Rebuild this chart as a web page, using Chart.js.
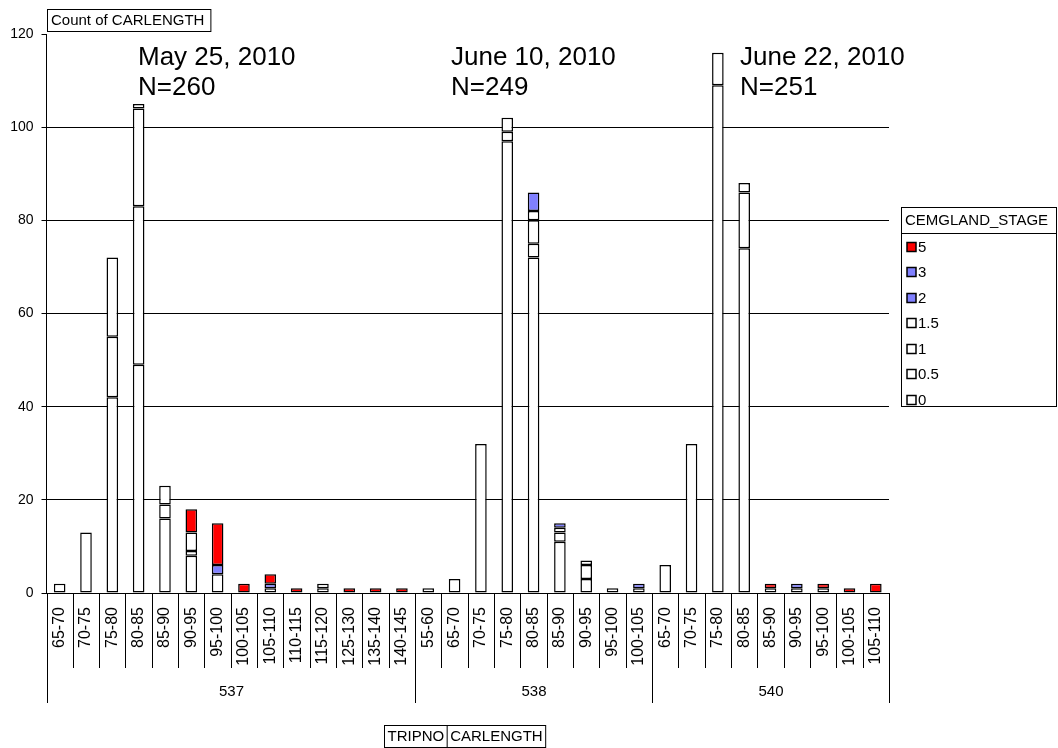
<!DOCTYPE html>
<html>
<head>
  <title>Count of CARLENGTH by CEMGLAND_STAGE</title>
  <script src="https://cdn.jsdelivr.net/npm/chart.js"></script>
  <style>
    body { margin: 0; background: #fff; }
  </style>
</head>
<body>
  <canvas id="chart" width="1058" height="748"></canvas>

  <script>
    const FONT = '"Liberation Sans", Arial, sans-serif';

    // categories: CARLENGTH bins, grouped by TRIPNO
    const lengthBins = [
      '65-70', '70-75', '75-80', '80-85', '85-90', '90-95', '95-100', '100-105', '105-110',
      '110-115', '115-120', '125-130', '135-140', '140-145',
      '55-60', '65-70', '70-75', '75-80', '80-85', '85-90', '90-95', '95-100', '100-105',
      '65-70', '70-75', '75-80', '80-85', '85-90', '90-95', '95-100', '100-105', '105-110'
    ];
    const trips = ['537', '538', '540'];
    const tripSizes = [14, 9, 9];
    const surveyDates = ['May 25, 2010', 'June 10, 2010', 'June 22, 2010'];
    const surveyCounts = [260, 249, 251];

    // counts per CEMGLAND_STAGE (stack order bottom -> top)
    const stage0  = [2, 13, 42, 49, 16, 8, 4, 0, 1, 0, 1, 0, 0, 0,  1, 3, 32, 97, 72, 11, 3, 1, 1,  6, 32, 109, 74, 1, 1, 1, 0, 0];
    const stage05 = [0, 0, 13, 34, 3, 1, 0, 0, 0, 0, 1, 0, 0, 0,    0, 0, 0, 2, 3, 2, 3, 0, 0,      0, 0, 7, 12, 0, 0, 0, 0, 0];
    const stage1  = [0, 0, 17, 21, 4, 4, 0, 0, 0, 0, 0, 0, 0, 0,    0, 0, 0, 3, 5, 1, 1, 0, 0,      0, 0, 0, 2, 0, 0, 0, 0, 0];
    const stage15 = [0, 0, 0, 1, 0, 0, 0, 0, 0, 0, 0, 0, 0, 0,      0, 0, 0, 0, 2, 0, 0, 0, 0,      0, 0, 0, 0, 0, 0, 0, 0, 0];
    const stage2  = [0, 0, 0, 0, 0, 0, 2, 0, 1, 0, 0, 0, 0, 0,      0, 0, 0, 0, 0, 0, 0, 0, 0,      0, 0, 0, 0, 0, 0, 0, 0, 0];
    const stage3  = [0, 0, 0, 0, 0, 0, 0, 0, 0, 0, 0, 0, 0, 0,      0, 0, 0, 0, 4, 1, 0, 0, 1,      0, 0, 0, 0, 0, 1, 0, 0, 0];
    const stage5  = [0, 0, 0, 0, 0, 5, 9, 2, 2, 1, 0, 1, 1, 1,      0, 0, 0, 0, 0, 0, 0, 0, 0,      0, 0, 0, 0, 1, 0, 1, 1, 2];

    const yTicks = [0, 20, 40, 60, 80, 100, 120];

    const WHITE = '#ffffff', BLUE = '#8080ff', RED = '#ff0000';
    const stages = [
      ['0', stage0, WHITE], ['0.5', stage05, WHITE], ['1', stage1, WHITE], ['1.5', stage15, WHITE],
      ['2', stage2, BLUE], ['3', stage3, BLUE], ['5', stage5, RED]
    ];

    const datasets = stages.map(([name, vals, col]) => ({
      label: name,
      data: vals.map(v => v === 0 ? null : v),
      backgroundColor: col,
      borderColor: '#000',
      borderWidth: 1.5,
      borderSkipped: false,
      categoryPercentage: 1,
      barPercentage: 0.44
    }));

    function line(ctx, x1, y1, x2, y2) {
      ctx.beginPath();
      ctx.moveTo(x1, y1);
      ctx.lineTo(x2, y2);
      ctx.stroke();
    }

    const extras = {
      id: 'extras',
      afterDraw(chart) {
        const ctx = chart.ctx;
        const xs = chart.scales.x;
        const area = chart.chartArea;
        const step = xs.getPixelForValue(1) - xs.getPixelForValue(0);
        const edge = i => Math.round(xs.getPixelForValue(0) - step / 2 + i * step) + 0.5;
        ctx.save();
        ctx.strokeStyle = '#000';
        ctx.fillStyle = '#000';
        ctx.lineWidth = 1;

        // category boxes and TRIPNO groups below the axis
        const groupEdges = [0];
        tripSizes.forEach(n => groupEdges.push(groupEdges[groupEdges.length - 1] + n));
        for (let i = 0; i <= lengthBins.length; i++) {
          line(ctx, edge(i), area.bottom, edge(i), groupEdges.includes(i) ? 703 : 668);
        }
        ctx.font = '15px ' + FONT;
        ctx.textAlign = 'center';
        ctx.textBaseline = 'middle';
        trips.forEach((t, g) => {
          ctx.fillText(t, (edge(groupEdges[g]) + edge(groupEdges[g + 1])) / 2, 692);
        });

        // survey date annotations
        const notePos = [138, 451, 740];
        ctx.font = '26px ' + FONT;
        ctx.textAlign = 'left';
        ctx.textBaseline = 'alphabetic';
        surveyDates.forEach((d, g) => {
          ctx.fillText(d, notePos[g], 65);
          ctx.fillText('N=' + surveyCounts[g], notePos[g], 95);
        });

        // field buttons
        ctx.font = '15px ' + FONT;
        ctx.textBaseline = 'middle';
        const countLabel = 'Count of CARLENGTH';
        const cw = ctx.measureText(countLabel).width;
        ctx.strokeRect(47.5, 9.5, cw + 10, 22);
        ctx.fillText(countLabel, 51, 21);

        const w1 = ctx.measureText('TRIPNO').width + 6;
        const w2 = ctx.measureText('CARLENGTH').width + 6;
        ctx.strokeRect(384.5, 725.5, w1 + w2, 22);
        line(ctx, 384.5 + w1, 725.5, 384.5 + w1, 747.5);
        ctx.fillText('TRIPNO', 387.5, 737);
        ctx.fillText('CARLENGTH', 387.5 + w1, 737);

        // legend
        const lx = 901.5, ly = 207.5, lw = 155, lh = 199;
        ctx.fillStyle = '#fff';
        ctx.fillRect(lx, ly, lw, lh);
        ctx.strokeRect(lx, ly, lw, lh);
        line(ctx, lx, 233.5, lx + lw, 233.5);
        ctx.fillStyle = '#000';
        ctx.fillText('CEMGLAND_STAGE', 905, 220.5);
        ctx.lineWidth = 1.5;
        chart.data.datasets.slice().reverse().forEach((ds, i) => {
          const cy = Math.round(246.7 + i * 25.55);
          ctx.fillStyle = ds.backgroundColor;
          ctx.fillRect(907, cy - 4.5, 9, 9);
          ctx.strokeRect(907, cy - 4.5, 9, 9);
          ctx.fillStyle = '#000';
          ctx.fillText(ds.label, 918, cy + 0.5);
        });
        ctx.restore();
      }
    };

    new Chart(document.getElementById('chart'), {
      type: 'bar',
      data: { labels: lengthBins, datasets: datasets },
      plugins: [extras],
      options: {
        responsive: false,
        animation: false,
        layout: { padding: { top: 34, right: 169, left: 0, bottom: 0 } },
        plugins: {
          legend: { display: false },
          tooltip: { enabled: false }
        },
        scales: {
          x: {
            stacked: true,
            afterFit: s => { s.height = 155; },
            grid: { display: true, drawOnChartArea: false, drawTicks: false },
            border: { display: true, color: '#000', width: 1 },
            ticks: {
              autoSkip: false, minRotation: 90, maxRotation: 90,
              padding: 14, color: '#000',
              font: { family: FONT, size: 16 }
            }
          },
          y: {
            stacked: true,
            min: 0, max: 120,
            afterFit: s => { s.width = 46.5; },
            afterBuildTicks: s => { s.ticks = yTicks.map(v => ({ value: v })); },
            grid: {
              color: c => (c.tick && (c.tick.value === 120 || c.tick.value === 0)) ? 'rgba(0,0,0,0)' : '#000',
              tickColor: '#000',
              tickLength: 5,
              lineWidth: 1
            },
            border: { display: true, color: '#000', width: 1 },
            ticks: {
              padding: 8, color: '#000',
              font: { family: FONT, size: 14 }
            }
          }
        }
      }
    });
  </script>
</body>
</html>
